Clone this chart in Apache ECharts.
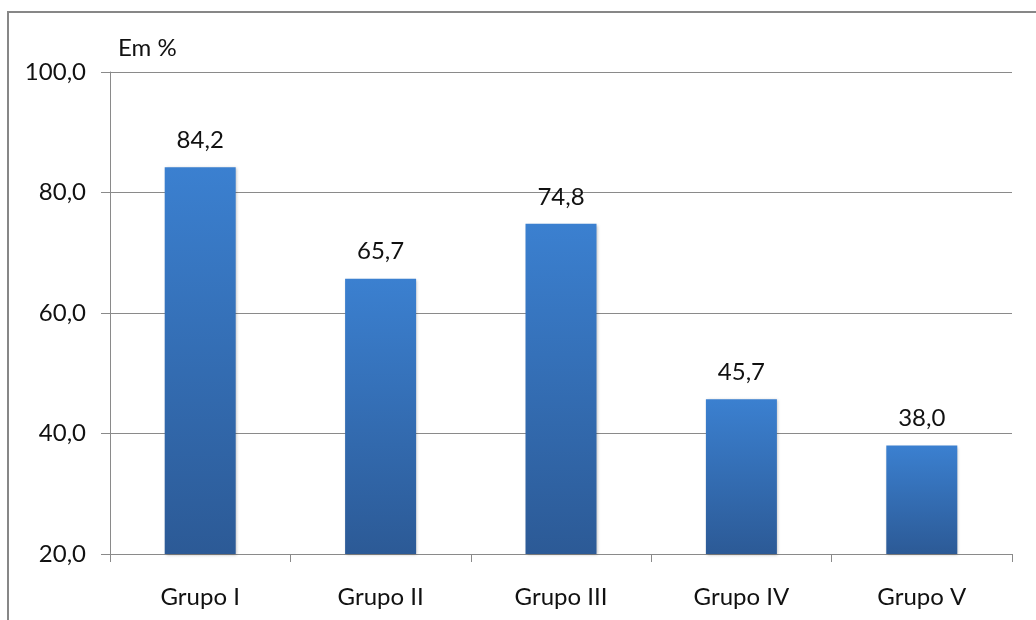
<!DOCTYPE html>
<html>
<head>
<meta charset="utf-8">
<script src="https://cdn.jsdelivr.net/npm/echarts@6/dist/echarts.min.js"></script>
<style>
  html, body { margin: 0; padding: 0; background: #ffffff; }
  #chart { width: 1036px; height: 620px; }
</style>
</head>
<body>
<div id="chart"></div>
<script>
// Categories and values (percent)
var categories = ['Grupo I', 'Grupo II', 'Grupo III', 'Grupo IV', 'Grupo V'];
var values = [84.2, 65.7, 74.8, 45.7, 38.0];
var yMin = 20;
var yMax = 100;
var yStep = 20;
var unitLabel = 'Em %';

function fmt(v) {
  return Number(v).toFixed(1).replace('.', ',');
}

var FONT = 'Lato';
var FS = 24;
var gridColor = '#8a8a8a';

var chart = echarts.init(document.getElementById('chart'), null, { renderer: 'canvas' });

chart.setOption({
  backgroundColor: '#ffffff',
  animation: false,
  textStyle: { fontFamily: FONT },
  graphic: [
    {
      type: 'rect',
      shape: { x: 8, y: 12, width: 1100, height: 700 },
      style: { fill: 'none', stroke: '#878787', lineWidth: 2 },
      z: 0
    },
    {
      type: 'text',
      left: 118,
      top: 36,
      style: { text: unitLabel, font: FS + 'px ' + FONT, fill: '#111111' }
    }
  ],
  grid: { left: 110, right: 24, top: 72, bottom: 66, containLabel: false },
  xAxis: {
    type: 'category',
    data: categories,
    axisLine: { show: true, lineStyle: { color: gridColor, width: 1 } },
    axisTick: { show: true, length: 8, alignWithLabel: false, lineStyle: { color: gridColor } },
    axisLabel: { color: '#111111', fontSize: FS, fontFamily: FONT, margin: 31 },
    splitLine: { show: false }
  },
  yAxis: {
    type: 'value',
    min: yMin,
    max: yMax,
    interval: yStep,
    axisLine: { show: true, lineStyle: { color: gridColor, width: 1 } },
    axisTick: { show: true, length: 9, lineStyle: { color: gridColor } },
    axisLabel: {
      color: '#111111', fontSize: FS, fontFamily: FONT, margin: 24,
      formatter: function (v) { return fmt(v); }
    },
    splitLine: { show: true, lineStyle: { color: gridColor, width: 1 } }
  },
  series: [
    {
      type: 'bar',
      data: values,
      barWidth: 71,
      itemStyle: {
        color: new echarts.graphic.LinearGradient(0, 0, 0, 1, [
          { offset: 0, color: '#3b80d0' },
          { offset: 1, color: '#2c5a96' }
        ]),
        shadowColor: 'rgba(0,0,0,0.25)',
        shadowBlur: 3,
        shadowOffsetX: 1,
        shadowOffsetY: 1
      },
      label: {
        show: true,
        position: 'top',
        distance: 15,
        color: '#111111',
        fontSize: FS,
        fontFamily: FONT,
        formatter: function (p) { return fmt(p.value); }
      }
    }
  ]
});
</script>
</body>
</html>
